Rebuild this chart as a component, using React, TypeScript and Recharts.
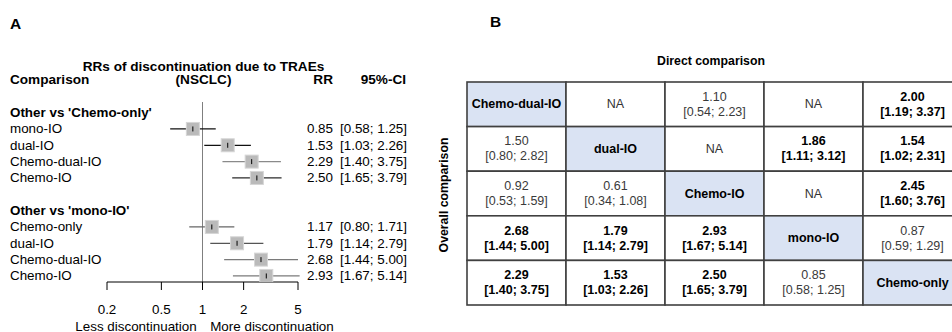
import * as React from "react";
import {
  ScatterChart,
  Scatter,
  XAxis,
  YAxis,
  ErrorBar,
  ReferenceLine,
} from "recharts";

// ---- panel A data (forest plot) ----
const groupLabels = ["Other vs 'Chemo-only'", "Other vs 'mono-IO'"];

const vsChemoOnly = ["mono-IO", "dual-IO", "Chemo-dual-IO", "Chemo-IO"];
const vsChemoOnlyRR = [0.85, 1.53, 2.29, 2.5];
const vsChemoOnlyLow = [0.58, 1.03, 1.4, 1.65];
const vsChemoOnlyHigh = [1.25, 2.26, 3.75, 3.79];

const vsMonoIO = ["Chemo-only", "dual-IO", "Chemo-dual-IO", "Chemo-IO"];
const vsMonoIORR = [1.17, 1.79, 2.68, 2.93];
const vsMonoIOLow = [0.8, 1.14, 1.44, 1.67];
const vsMonoIOHigh = [1.71, 2.79, 5.0, 5.14];

const xTicks = [0.2, 0.5, 1, 2, 5];

// ---- panel B data (league table) ----
const treatments = ["Chemo-dual-IO", "dual-IO", "Chemo-IO", "mono-IO", "Chemo-only"];
const tableRR = [
  [null, null, 1.1, null, 2.0],
  [1.5, null, null, 1.86, 1.54],
  [0.92, 0.61, null, null, 2.45],
  [2.68, 1.79, 2.93, null, 0.87],
  [2.29, 1.53, 2.5, 0.85, null],
];
const tableLow = [
  [null, null, 0.54, null, 1.19],
  [0.8, null, null, 1.11, 1.02],
  [0.53, 0.34, null, null, 1.6],
  [1.44, 1.14, 1.67, null, 0.59],
  [1.4, 1.03, 1.65, 0.58, null],
];
const tableHigh = [
  [null, null, 2.23, null, 3.37],
  [2.82, null, null, 3.12, 2.31],
  [1.59, 1.08, null, null, 3.76],
  [5.0, 2.79, 5.14, null, 1.29],
  [3.75, 2.26, 3.79, 1.25, null],
];

// line colour of each CI, per row (styling only)
const ciColors = ["#111", "#111", "#8a8a8a", "#2a2a2a", "#666", "#555", "#7a7a7a", "#7a7a7a"];

const FONT = "'Liberation Sans', Arial, sans-serif";
const fmt = (v: number) => v.toFixed(2);

type Row = {
  row: number;
  kind: "header" | "blank" | "study";
  label: string;
  rr?: number;
  low?: number;
  high?: number;
};

function buildRows(): Row[] {
  const out: Row[] = [];
  const add = (hdr: string, names: string[], rr: number[], lo: number[], hi: number[]) => {
    out.push({ row: out.length, kind: "header", label: hdr });
    names.forEach((n, i) =>
      out.push({ row: out.length, kind: "study", label: n, rr: rr[i], low: lo[i], high: hi[i] })
    );
  };
  add(groupLabels[0], vsChemoOnly, vsChemoOnlyRR, vsChemoOnlyLow, vsChemoOnlyHigh);
  out.push({ row: out.length, kind: "blank", label: "" });
  add(groupLabels[1], vsMonoIO, vsMonoIORR, vsMonoIOLow, vsMonoIOHigh);
  return out;
}

const rows = buildRows();
const studies = rows.filter((r) => r.kind === "study");
const rowTicks = rows.map((r) => r.row);
const yDomain = [-0.65, rows.length - 1 + 0.37];

const Box = (props: any) => {
  const { cx, cy } = props;
  if (cx == null || cy == null) return null;
  return (
    <g>
      <rect x={cx - 6.5} y={cy - 6.5} width={13} height={13} fill="#bababa" stroke="#d6d6d6" />
      <line x1={cx} x2={cx} y1={cy - 2.5} y2={cy + 2.5} stroke="#000" strokeWidth={1} />
    </g>
  );
};

function ForestPlot() {
  const leftTick = (p: any) => {
    const r = rows[p.payload.value];
    if (!r || r.kind === "blank") return <g />;
    return (
      <text
        x={10}
        y={p.y}
        dominantBaseline="central"
        fontFamily={FONT}
        fontSize={13.4}
        fontWeight={r.kind === "header" ? "bold" : "normal"}
        fill="#000"
      >
        {r.label}
      </text>
    );
  };
  const rightTick = (p: any) => {
    const r = rows[p.payload.value];
    if (!r || r.kind !== "study") return <g />;
    return (
      <g fontFamily={FONT} fontSize={13.4} fill="#000">
        <text x={333} y={p.y} dominantBaseline="central" textAnchor="end">
          {fmt(r.rr!)}
        </text>
        <text x={340} y={p.y} dominantBaseline="central">
          {`[${fmt(r.low!)}; ${fmt(r.high!)}]`}
        </text>
      </g>
    );
  };
  const xTick = (p: any) => (
    <text
      x={p.x}
      y={309}
      textAnchor="middle"
      dominantBaseline="central"
      fontFamily={FONT}
      fontSize={13.4}
      fill="#000"
    >
      {p.payload.value}
    </text>
  );

  return (
    <ScatterChart
      width={420}
      height={332}
      margin={{ top: 102, right: 0, bottom: 0, left: 0 }}
      style={{ position: "absolute", left: 0, top: 0 }}
    >
      <XAxis
        dataKey="rr"
        type="number"
        scale="log"
        domain={[0.2, 5]}
        allowDataOverflow
        ticks={xTicks}
        interval={0}
        tick={xTick}
        tickSize={8}
        stroke="#000"
        height={50}
      />
      <YAxis
        yAxisId="rows"
        dataKey="row"
        type="number"
        domain={yDomain}
        reversed
        ticks={rowTicks}
        interval={0}
        axisLine={false}
        tickLine={false}
        tick={leftTick}
        width={107}
        allowDataOverflow
      />
      <YAxis
        yAxisId="stats"
        orientation="right"
        type="number"
        domain={yDomain}
        reversed
        ticks={rowTicks}
        interval={0}
        axisLine={false}
        tickLine={false}
        tick={rightTick}
        width={122}
        allowDataOverflow
      />
      <ReferenceLine yAxisId="rows" x={1} stroke="#7f7f7f" strokeWidth={1} />
      {studies.map((s, i) => (
        <Scatter
          key={s.row}
          yAxisId="rows"
          data={[{ rr: s.rr, row: s.row, err: [s.rr! - s.low!, s.high! - s.rr!] }]}
          shape={Box}
          isAnimationActive={false}
        >
          <ErrorBar dataKey="err" direction="x" width={0} stroke={ciColors[i]} strokeWidth={1.3} />
        </Scatter>
      ))}
      <text x={10} y={23} dominantBaseline="central" fontFamily={FONT} fontSize={15.5} fontWeight="bold" fill="#000">
        A
      </text>
      <g fontFamily={FONT} fontSize={13.6} fontWeight="bold" fill="#000">
        <text x={203.5} y={66} textAnchor="middle" dominantBaseline="central">
          RRs of discontinuation due to TRAEs
        </text>
        <text x={10} y={79.5} dominantBaseline="central">
          Comparison
        </text>
        <text x={203.5} y={79.5} textAnchor="middle" dominantBaseline="central">
          (NSCLC)
        </text>
        <text x={333} y={79.5} textAnchor="end" dominantBaseline="central">
          RR
        </text>
        <text x={406} y={79.5} textAnchor="end" dominantBaseline="central">
          95%-CI
        </text>
      </g>
      <g fontFamily={FONT} fontSize={13.4} fill="#000">
        <text x={136} y={326} textAnchor="middle" dominantBaseline="central">
          Less discontinuation
        </text>
        <text x={272} y={326} textAnchor="middle" dominantBaseline="central">
          More discontinuation
        </text>
      </g>
    </ScatterChart>
  );
}

// ---- panel B ----
const CELL_W = 99;
const CELL_H = 44.6;

const cells = treatments.flatMap((_, r) =>
  treatments.map((__, c) => ({ col: c + 0.5, row: r + 0.5, r, c }))
);

const Cell = (props: any) => {
  const { cx, cy, payload } = props;
  const { r, c } = payload;
  const x = cx - CELL_W / 2;
  const y = cy - CELL_H / 2;
  const diag = r === c;
  const rr = tableRR[r][c];
  const lo = tableLow[r][c];
  const hi = tableHigh[r][c];
  const sig = rr != null && (lo! > 1 || hi! < 1);
  return (
    <g fontFamily={FONT} fontSize={12.5}>
      <rect x={x} y={y} width={CELL_W} height={CELL_H} fill={diag ? "#dae3f3" : "#fff"} stroke="#404040" strokeWidth={1.6} />
      {diag ? (
        <text x={cx} y={cy} textAnchor="middle" dominantBaseline="central" fontWeight="bold" fill="#000">
          {treatments[r]}
        </text>
      ) : rr == null ? (
        <text x={cx} y={cy} textAnchor="middle" dominantBaseline="central" fill="#333">
          NA
        </text>
      ) : (
        <g textAnchor="middle" fontWeight={sig ? "bold" : "normal"} fill={sig ? "#000" : "#3a3a3a"}>
          <text x={cx} y={cy - 7.5} dominantBaseline="central">
            {fmt(rr)}
          </text>
          <text x={cx} y={cy + 7.5} dominantBaseline="central">
            {`[${fmt(lo!)}; ${fmt(hi!)}]`}
          </text>
        </g>
      )}
    </g>
  );
};

function LeagueTable() {
  return (
    <ScatterChart
      width={532}
      height={332}
      margin={{ top: 82, right: 0, bottom: 27, left: 37 }}
      style={{ position: "absolute", left: 430, top: 0 }}
    >
      <XAxis dataKey="col" type="number" domain={[0, 5]} hide />
      <YAxis dataKey="row" type="number" domain={[0, 5]} reversed hide />
      <Scatter data={cells} shape={Cell} isAnimationActive={false} />
      <text x={60} y={21} dominantBaseline="central" fontFamily={FONT} fontSize={15.5} fontWeight="bold" fill="#000">
        B
      </text>
      <text x={281} y={60.5} textAnchor="middle" dominantBaseline="central" fontFamily={FONT} fontSize={12.3} fontWeight="bold" fill="#000">
        Direct comparison
      </text>
      <text
        x={14}
        y={195}
        transform="rotate(-90 14 195)"
        textAnchor="middle"
        dominantBaseline="central"
        fontFamily={FONT}
        fontSize={12.3}
        fontWeight="bold"
        fill="#000"
      >
        Overall comparison
      </text>
    </ScatterChart>
  );
}

export default function App() {
  return (
    <div
      style={{
        position: "fixed",
        left: 0,
        top: 0,
        width: 952,
        height: 332,
        overflow: "hidden",
        background: "#fff",
      }}
    >
      <ForestPlot />
      <LeagueTable />
    </div>
  );
}
